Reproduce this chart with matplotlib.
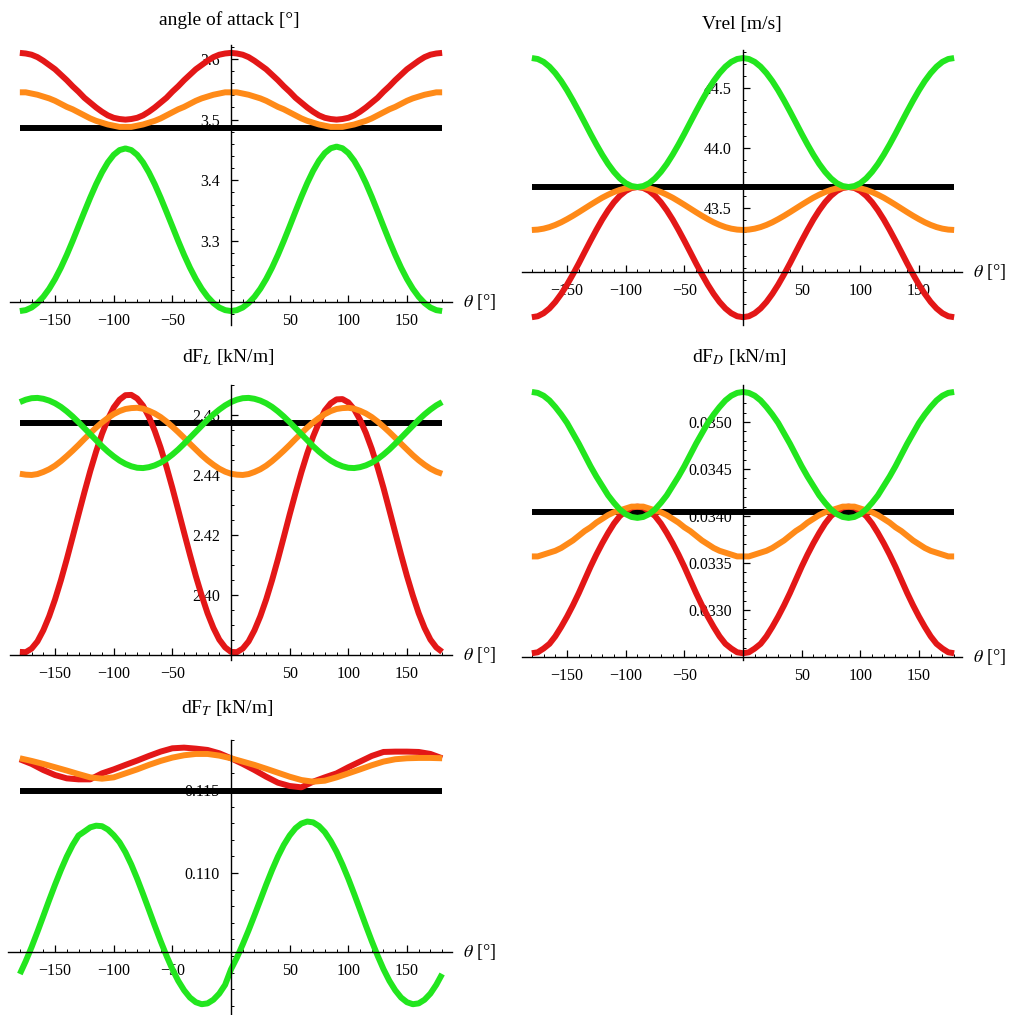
import numpy as np
import matplotlib.pyplot as plt
from matplotlib.ticker import FixedLocator, NullFormatter

plt.rcParams['font.family'] = ['Liberation Serif', 'DejaVu Serif']
plt.rcParams['mathtext.fontset'] = 'stix'

# azimuth angle of the blade (deg)
theta = list(range(-180, 181, 5))
theta_coarse = list(range(-180, 181, 10))

# angle of attack [deg]
aoa_red = [3.610, 3.609, 3.607, 3.603, 3.597, 3.590, 3.583, 3.574, 3.565, 3.555, 3.546, 3.536, 3.528, 3.520, 3.513, 3.507, 3.503, 3.501, 3.500,
           3.501, 3.503, 3.507, 3.513, 3.520, 3.528, 3.536, 3.546, 3.555, 3.565, 3.574, 3.583, 3.590, 3.597, 3.603, 3.607, 3.609, 3.610,
           3.609, 3.607, 3.603, 3.597, 3.590, 3.583, 3.574, 3.565, 3.555, 3.546, 3.536, 3.528, 3.520, 3.513, 3.507, 3.503, 3.501, 3.500,
           3.501, 3.503, 3.507, 3.513, 3.520, 3.528, 3.536, 3.546, 3.555, 3.565, 3.574, 3.583, 3.590, 3.597, 3.603, 3.607, 3.609, 3.610]
aoa_orange = [3.545, 3.545, 3.543, 3.541, 3.538, 3.535, 3.531, 3.526, 3.521, 3.517, 3.512, 3.507, 3.502, 3.498, 3.495, 3.492, 3.490, 3.488, 3.488,
              3.488, 3.490, 3.492, 3.495, 3.498, 3.502, 3.507, 3.512, 3.517, 3.521, 3.526, 3.531, 3.535, 3.538, 3.541, 3.543, 3.545, 3.545,
              3.545, 3.543, 3.541, 3.538, 3.535, 3.531, 3.526, 3.521, 3.517, 3.512, 3.507, 3.502, 3.498, 3.495, 3.492, 3.490, 3.488, 3.488,
              3.488, 3.490, 3.492, 3.495, 3.498, 3.502, 3.507, 3.512, 3.517, 3.521, 3.526, 3.531, 3.535, 3.538, 3.541, 3.543, 3.545, 3.545]
aoa_green = [3.1845, 3.1860, 3.1903, 3.1977, 3.2080, 3.2212, 3.2373, 3.2560, 3.2771, 3.3000, 3.3241, 3.3480, 3.3715, 3.3935, 3.4130, 3.4295, 3.4420, 3.4498, 3.4525,
             3.4498, 3.4420, 3.4295, 3.4130, 3.3935, 3.3715, 3.3480, 3.3241, 3.3000, 3.2771, 3.2560, 3.2373, 3.2212, 3.2080, 3.1977, 3.1903, 3.1860, 3.1845,
             3.1860, 3.1903, 3.1977, 3.2080, 3.2212, 3.2373, 3.2560, 3.2771, 3.3000, 3.3241, 3.3487, 3.3728, 3.3954, 3.4155, 3.4323, 3.4450, 3.4528, 3.4555,
             3.4528, 3.4450, 3.4323, 3.4155, 3.3954, 3.3728, 3.3487, 3.3241, 3.3000, 3.2771, 3.2560, 3.2373, 3.2212, 3.2080, 3.1977, 3.1903, 3.1860, 3.1845]
aoa_mean = [3.486, 3.486]

# relative velocity [m/s]
vrel_red = [42.590, 42.598, 42.623, 42.663, 42.717, 42.784, 42.861, 42.947, 43.038, 43.133, 43.227, 43.318, 43.404, 43.481, 43.548, 43.602, 43.642, 43.667, 43.675,
            43.667, 43.642, 43.602, 43.548, 43.481, 43.404, 43.318, 43.227, 43.133, 43.038, 42.947, 42.861, 42.784, 42.717, 42.663, 42.623, 42.598, 42.590,
            42.598, 42.623, 42.663, 42.717, 42.784, 42.861, 42.947, 43.038, 43.133, 43.227, 43.318, 43.404, 43.481, 43.548, 43.602, 43.642, 43.667, 43.675,
            43.667, 43.642, 43.602, 43.548, 43.481, 43.404, 43.318, 43.227, 43.133, 43.038, 42.947, 42.861, 42.784, 42.717, 42.663, 42.623, 42.598, 42.590]
vrel_orange = [43.317, 43.320, 43.328, 43.341, 43.359, 43.381, 43.407, 43.435, 43.465, 43.496, 43.527, 43.557, 43.586, 43.611, 43.633, 43.651, 43.664, 43.672, 43.675,
               43.672, 43.664, 43.651, 43.633, 43.611, 43.586, 43.557, 43.527, 43.496, 43.465, 43.435, 43.407, 43.381, 43.359, 43.341, 43.328, 43.320, 43.317,
               43.320, 43.328, 43.341, 43.359, 43.381, 43.407, 43.435, 43.465, 43.496, 43.527, 43.557, 43.586, 43.611, 43.633, 43.651, 43.664, 43.672, 43.675,
               43.672, 43.664, 43.651, 43.633, 43.611, 43.586, 43.557, 43.527, 43.496, 43.465, 43.435, 43.407, 43.381, 43.359, 43.341, 43.328, 43.320, 43.317]
vrel_green = [44.750, 44.742, 44.718, 44.678, 44.624, 44.558, 44.481, 44.396, 44.306, 44.213, 44.119, 44.029, 43.944, 43.867, 43.801, 43.747, 43.707, 43.683, 43.675,
              43.683, 43.707, 43.747, 43.801, 43.867, 43.944, 44.029, 44.119, 44.213, 44.306, 44.396, 44.481, 44.558, 44.624, 44.678, 44.718, 44.742, 44.750,
              44.742, 44.718, 44.678, 44.624, 44.558, 44.481, 44.396, 44.306, 44.213, 44.119, 44.029, 43.944, 43.867, 43.801, 43.747, 43.707, 43.683, 43.675,
              43.683, 43.707, 43.747, 43.801, 43.867, 43.944, 44.029, 44.119, 44.213, 44.306, 44.396, 44.481, 44.558, 44.624, 44.678, 44.718, 44.742, 44.750]
vrel_mean = [43.675, 43.675]

# lift force per unit length [kN/m]
fl_red = [2.3810, 2.3809, 2.3821, 2.3845, 2.3882, 2.3929, 2.3985, 2.4049, 2.4119, 2.4193, 2.4268, 2.4342, 2.4413, 2.4478, 2.4537, 2.4586, 2.4625, 2.4651, 2.4666,
          2.4667, 2.4655, 2.4631, 2.4594, 2.4547, 2.4491, 2.4427, 2.4357, 2.4283, 2.4208, 2.4134, 2.4063, 2.3998, 2.3939, 2.3890, 2.3851, 2.3825, 2.3810,
          2.3809, 2.3821, 2.3845, 2.3882, 2.3929, 2.3985, 2.4049, 2.4119, 2.4193, 2.4268, 2.4340, 2.4409, 2.4472, 2.4528, 2.4575, 2.4615, 2.4639, 2.4652,
          2.4653, 2.4642, 2.4619, 2.4584, 2.4540, 2.4487, 2.4425, 2.4357, 2.4283, 2.4208, 2.4134, 2.4063, 2.3998, 2.3939, 2.3890, 2.3851, 2.3825, 2.3810]
fl_orange = [2.4404, 2.4401, 2.4400, 2.4403, 2.4410, 2.4419, 2.4431, 2.4446, 2.4463, 2.4481, 2.4500, 2.4520, 2.4539, 2.4558, 2.4575, 2.4590, 2.4603, 2.4613, 2.4620,
             2.4623, 2.4624, 2.4621, 2.4614, 2.4605, 2.4593, 2.4578, 2.4561, 2.4543, 2.4524, 2.4504, 2.4485, 2.4466, 2.4449, 2.4434, 2.4421, 2.4411, 2.4404,
             2.4401, 2.4400, 2.4403, 2.4410, 2.4419, 2.4431, 2.4446, 2.4463, 2.4481, 2.4500, 2.4520, 2.4539, 2.4558, 2.4575, 2.4590, 2.4603, 2.4613, 2.4620,
             2.4623, 2.4624, 2.4621, 2.4614, 2.4605, 2.4593, 2.4578, 2.4561, 2.4543, 2.4524, 2.4504, 2.4485, 2.4466, 2.4449, 2.4434, 2.4421, 2.4411, 2.4404]
fl_green = [2.4643, 2.4651, 2.4656, 2.4657, 2.4654, 2.4648, 2.4639, 2.4627, 2.4612, 2.4595, 2.4576, 2.4556, 2.4536, 2.4516, 2.4496, 2.4478, 2.4462, 2.4448, 2.4437,
            2.4429, 2.4424, 2.4423, 2.4426, 2.4432, 2.4441, 2.4453, 2.4468, 2.4485, 2.4504, 2.4524, 2.4544, 2.4564, 2.4584, 2.4602, 2.4618, 2.4632, 2.4643,
            2.4651, 2.4656, 2.4657, 2.4654, 2.4648, 2.4639, 2.4627, 2.4612, 2.4595, 2.4576, 2.4556, 2.4536, 2.4516, 2.4496, 2.4478, 2.4462, 2.4448, 2.4437,
            2.4429, 2.4424, 2.4423, 2.4426, 2.4432, 2.4441, 2.4453, 2.4468, 2.4485, 2.4504, 2.4524, 2.4544, 2.4564, 2.4584, 2.4602, 2.4618, 2.4632, 2.4643]
fl_mean = [2.4573, 2.4573]

# drag force per unit length [kN/m]
fd_red = [0.03254, 0.03255, 0.03259, 0.03264, 0.03272, 0.03282, 0.03293, 0.03305, 0.03318, 0.03332, 0.03346, 0.03359, 0.03371, 0.03382, 0.03392, 0.03400, 0.03405, 0.03409, 0.03410,
          0.03409, 0.03405, 0.03400, 0.03392, 0.03382, 0.03371, 0.03359, 0.03346, 0.03332, 0.03318, 0.03305, 0.03293, 0.03282, 0.03272, 0.03264, 0.03259, 0.03255, 0.03254,
          0.03255, 0.03259, 0.03264, 0.03272, 0.03282, 0.03293, 0.03305, 0.03318, 0.03332, 0.03346, 0.03359, 0.03371, 0.03382, 0.03392, 0.03400, 0.03405, 0.03409, 0.03410,
          0.03409, 0.03405, 0.03400, 0.03392, 0.03382, 0.03371, 0.03359, 0.03346, 0.03332, 0.03318, 0.03305, 0.03293, 0.03282, 0.03272, 0.03264, 0.03259, 0.03255, 0.03254]
fd_orange = [0.03357, 0.03357, 0.03359, 0.03361, 0.03363, 0.03366, 0.03370, 0.03374, 0.03379, 0.03384, 0.03388, 0.03393, 0.03397, 0.03401, 0.03404, 0.03406, 0.03408, 0.03410, 0.03410,
             0.03410, 0.03408, 0.03406, 0.03404, 0.03401, 0.03397, 0.03393, 0.03388, 0.03384, 0.03379, 0.03374, 0.03370, 0.03366, 0.03363, 0.03361, 0.03359, 0.03357, 0.03357,
             0.03357, 0.03359, 0.03361, 0.03363, 0.03366, 0.03370, 0.03374, 0.03379, 0.03384, 0.03388, 0.03393, 0.03397, 0.03401, 0.03404, 0.03406, 0.03408, 0.03410, 0.03410,
             0.03410, 0.03408, 0.03406, 0.03404, 0.03401, 0.03397, 0.03393, 0.03388, 0.03384, 0.03379, 0.03374, 0.03370, 0.03366, 0.03363, 0.03361, 0.03359, 0.03357, 0.03357]
fd_green = [0.03532, 0.03531, 0.03528, 0.03523, 0.03516, 0.03508, 0.03499, 0.03488, 0.03477, 0.03465, 0.03453, 0.03442, 0.03432, 0.03422, 0.03414, 0.03407, 0.03402, 0.03399, 0.03398,
            0.03399, 0.03402, 0.03407, 0.03414, 0.03422, 0.03432, 0.03442, 0.03453, 0.03465, 0.03477, 0.03488, 0.03499, 0.03508, 0.03516, 0.03523, 0.03528, 0.03531, 0.03532,
            0.03531, 0.03528, 0.03523, 0.03516, 0.03508, 0.03499, 0.03488, 0.03477, 0.03465, 0.03453, 0.03442, 0.03432, 0.03422, 0.03414, 0.03407, 0.03402, 0.03399, 0.03398,
            0.03399, 0.03402, 0.03407, 0.03414, 0.03422, 0.03432, 0.03442, 0.03453, 0.03465, 0.03477, 0.03488, 0.03499, 0.03508, 0.03516, 0.03523, 0.03528, 0.03531, 0.03532]
fd_mean = [0.03404, 0.03404]

# tangential force per unit length [kN/m]
ft_red = [0.11685, 0.11657, 0.11620, 0.11590, 0.11570, 0.11564, 0.11564, 0.11600, 0.11624, 0.11651, 0.11677, 0.11705,
          0.11731, 0.11751, 0.11755, 0.11749, 0.11741, 0.11721, 0.11691, 0.11657, 0.11620, 0.11580, 0.11544, 0.11524,
          0.11516, 0.11550, 0.11576, 0.11600, 0.11637, 0.11671, 0.11705, 0.11729, 0.11731, 0.11731, 0.11729, 0.11717, 0.11691]
ft_orange = [0.11691, 0.11675, 0.11657, 0.11637, 0.11617, 0.11596, 0.11576, 0.11568, 0.11576, 0.11600, 0.11624, 0.11651,
             0.11675, 0.11695, 0.11709, 0.11717, 0.11717, 0.11707, 0.11691, 0.11671, 0.11651, 0.11628, 0.11604, 0.11580,
             0.11560, 0.11550, 0.11556, 0.11576, 0.11600, 0.11624, 0.11649, 0.11671, 0.11685, 0.11691, 0.11693, 0.11693, 0.11691]
ft_green = [0.10392, 0.10469, 0.10554, 0.10646, 0.10741, 0.10837, 0.10930, 0.11018, 0.11099, 0.11169, 0.11226, 0.11250, 0.11275, 0.11285, 0.11282, 0.11262, 0.11228, 0.11185, 0.11125,
            0.11051, 0.10966, 0.10874, 0.10779, 0.10683, 0.10590, 0.10502, 0.10421, 0.10351, 0.10294, 0.10250, 0.10222, 0.10210, 0.10215, 0.10237, 0.10274, 0.10327, 0.10420,
            0.10490, 0.10570, 0.10655, 0.10745, 0.10837, 0.10930, 0.11018, 0.11099, 0.11169, 0.11226, 0.11270, 0.11298, 0.11310, 0.11305, 0.11283, 0.11246, 0.11193, 0.11128,
            0.11051, 0.10966, 0.10874, 0.10779, 0.10683, 0.10590, 0.10502, 0.10421, 0.10351, 0.10294, 0.10250, 0.10222, 0.10210, 0.10215, 0.10237, 0.10274, 0.10327, 0.10392]
ft_mean = [0.11494, 0.11494]

RED, ORANGE, GREEN = '#e31717', '#ff8a18', '#22e61e'
LW = 4.3
W, H = 1018, 1015
PX_PER_DEG = 1.173

fig = plt.figure(figsize=(W / 100, H / 100), dpi=100)


def panel(xpix, x0pix, ypix, ylim, y_origin, yticks, ylabels, yminor, title, title_xy,
          series):
    ax = fig.add_axes([xpix[0] / W, 1 - ypix[1] / H,
                       (xpix[1] - xpix[0]) / W, (ypix[1] - ypix[0]) / H])
    ax.patch.set_alpha(0)
    ax.set_xlim((xpix[0] - x0pix) / PX_PER_DEG, (xpix[1] - x0pix) / PX_PER_DEG)
    ax.set_ylim(*ylim)

    for x, y, c in series:
        ax.plot(x, y, color=c, lw=LW, zorder=3, solid_capstyle='butt')

    # axes crossing inside the frame, Mathematica style
    for s in ('top', 'right'):
        ax.spines[s].set_visible(False)
    ax.spines['left'].set_position(('data', 0))
    ax.spines['bottom'].set_position(('data', y_origin))
    for s in ('left', 'bottom'):
        ax.spines[s].set_linewidth(1.0)
        ax.spines[s].set_zorder(4)

    ax.xaxis.set_major_locator(FixedLocator([-150, -100, -50, 50, 100, 150]))
    ax.set_xticklabels(['\u2212150', '\u2212100', '\u221250', '50', '100', '150'])
    ax.xaxis.set_minor_locator(FixedLocator([v for v in range(-180, 181, 10)
                                             if v % 50 != 0]))
    ax.yaxis.set_major_locator(FixedLocator(yticks))
    ax.set_yticklabels(ylabels)
    ax.yaxis.set_minor_locator(FixedLocator(yminor))
    ax.yaxis.set_minor_formatter(NullFormatter())
    ax.tick_params(which='major', direction='in', length=5, width=0.9, labelsize=11.5, pad=8)
    ax.tick_params(which='minor', direction='in', length=2.5, width=0.7)

    ax.annotate(r'$\theta$ [°]', xy=(1, y_origin), xycoords=('axes fraction', 'data'),
                xytext=(11, 0), textcoords='offset pixels', ha='left', va='center',
                fontsize=13, annotation_clip=False)
    fig.text(title_xy[0] / W, 1 - title_xy[1] / H, title, ha='center', va='center',
             fontsize=14)
    return ax


panel((10, 452), 231, (45, 325), (3.1615, 3.623), 3.2,
      [3.3, 3.4, 3.5, 3.6], ['3.3', '3.4', '3.5', '3.6'],
      np.arange(3.18, 3.625, 0.02), 'angle of attack [°]', (229, 20),
      [([-180, 180], aoa_mean, 'black'), (theta, aoa_red, RED),
       (theta, aoa_orange, ORANGE), (theta, aoa_green, GREEN)])

panel((522, 962), 743, (50, 325), (42.525, 44.817), 42.97,
      [43.5, 44.0, 44.5], ['43.5', '44.0', '44.5'],
      np.arange(42.6, 44.85, 0.1), 'Vrel [m/s]', (742, 25),
      [([-180, 180], vrel_mean, 'black'), (theta, vrel_red, RED),
       (theta, vrel_orange, ORANGE), (theta, vrel_green, GREEN)])

panel((10, 452), 231, (385, 660), (2.3783, 2.470), 2.38,
      [2.40, 2.42, 2.44, 2.46], ['2.40', '2.42', '2.44', '2.46'],
      np.arange(2.38, 2.4701, 0.005), r'dF$_{\mathit{L}}$ [kN/m]', (228, 357),
      [([-180, 180], fl_mean, 'black'), (theta, fl_red, RED),
       (theta, fl_orange, ORANGE), (theta, fl_green, GREEN)])

panel((522, 962), 743, (385, 660), (0.032468, 0.035394), 0.0325,
      [0.0330, 0.0335, 0.0340, 0.0345, 0.0350], ['0.0330', '0.0335', '0.0340', '0.0345', '0.0350'],
      np.arange(0.0325, 0.03540, 0.0001), r'dF$_{\mathit{D}}$ [kN/m]', (739, 357),
      [([-180, 180], fd_mean, 'black'), (theta, fd_red, RED),
       (theta, fd_orange, ORANGE), (theta, fd_green, GREEN)])

panel((8, 452), 231, (740, 1015), (0.10145, 0.11801), 0.10525,
      [0.110, 0.115], ['0.110', '0.115'],
      np.arange(0.102, 0.1181, 0.001), r'dF$_{\mathit{T}}$ [kN/m]', (227, 708),
      [([-180, 180], ft_mean, 'black'), (theta_coarse, ft_red, RED),
       (theta_coarse, ft_orange, ORANGE), (theta, ft_green, GREEN)])

fig.savefig('out.png', dpi=100)
